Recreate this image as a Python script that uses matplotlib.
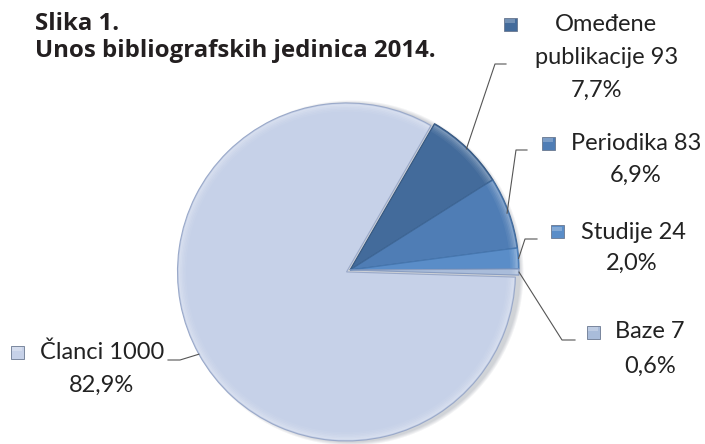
import numpy as np
import matplotlib
matplotlib.use("Agg")
import matplotlib.pyplot as plt
from matplotlib.patches import Rectangle, Ellipse, Wedge

# ---- data ----
categories = ["Omeđene publikacije", "Periodika", "Studije", "Baze", "Članci"]
values = [93, 83, 24, 7, 1000]
percent_labels = ["7,7%", "6,9%", "2,0%", "0,6%", "82,9%"]
title_lines = ["Slika 1.", "Unos bibliografskih jedinica 2014."]

colors = ["#436b9b", "#4f7db5", "#5a8dc8", "#a9bcda", "#c6d1e8"]
edge_dark = ["#34567f", "#3f6898", "#4677b0", "#8a9ec2", "#9aa9c9"]

W, H = 705, 444
fig = plt.figure(figsize=(W / 100, H / 100), dpi=100)
ax = fig.add_axes([0, 0, 1, 1])

cx, cy, R = 350, H - 270, 169

# soft shadow
for i in range(4):
    ax.add_patch(Ellipse((cx + 1, cy - 3), 2 * R + 1 + 2 * i, 2 * R + 1 + 2 * i,
                         color="#303a50", alpha=0.06, lw=0, zorder=0))

wedges, _ = ax.pie(values, colors=colors, startangle=60, counterclock=False,
                   radius=R, center=(cx, cy), explode=[0, 0, 0, 0, 4],
                   wedgeprops=dict(linewidth=0.8), frame=True)
for w, ec in zip(wedges, edge_dark):
    w.set_edgecolor(ec)

# bevel highlight: lighter inner rim fading inward
for w in wedges:
    th1, th2 = w.theta1, w.theta2
    for k, a in enumerate([0.30, 0.22, 0.15, 0.09, 0.05]):
        ax.add_patch(Wedge(w.center, R - 1.2 - k * 1.5, th1 + 0.3, th2 - 0.3,
                           width=1.5, facecolor="white", alpha=a, lw=0, zorder=3))

ax.set_xlim(0, W)
ax.set_ylim(0, H)
ax.set_aspect("equal")
ax.axis("off")

label_font = "Lato"
fs = 17

def px(x, y):
    return x, H - y

layout = [
    dict(lines=["Omeđene", "publikacije 93"], xc=[606, 607], yc=[24, 57], pc=(596, 90),
         marker=(510, 24), elbow=(495, 64), end=(506, 64), r=R - 1),
    dict(lines=["Periodika 83"], xc=[636], yc=[143], pc=(636, 175),
         marker=(548, 143), elbow=(516, 150), end=(527, 150), r=R - 2),
    dict(lines=["Studije 24"], xc=[633], yc=[232], pc=(632, 263),
         marker=(557, 232), elbow=(525, 239), end=(537, 239), r=R),
    dict(lines=["Baze 7"], xc=[650], yc=[332], pc=(650, 366),
         marker=(593, 332), elbow=(562, 340), end=(575, 340), r=R),
    dict(lines=["Članci 1000"], xc=[102], yc=[352], pc=(101, 385),
         marker=(17, 352), elbow=(180, 360), end=(168, 360), r=R),
]

for w, c, lay, pct in zip(wedges, colors, layout, percent_labels):
    for t, xcc, ycc in zip(lay["lines"], lay["xc"], lay["yc"]):
        ax.text(*px(xcc, ycc), t, ha="center", va="center", fontsize=fs,
                family=label_font, color="#222222")
    ax.text(*px(*lay["pc"]), pct, ha="center", va="center", fontsize=fs,
            family=label_font, color="#222222")
    mx, my = px(*lay["marker"])
    s = 13
    ax.add_patch(Rectangle((mx - s / 2, my - s / 2), s, s, facecolor=c,
                           edgecolor="#6a7890", lw=0.6, zorder=5))
    ax.add_patch(Rectangle((mx - s / 2 + 1.5, my + 1), s - 3, s / 2 - 2.5,
                           facecolor="white", alpha=0.25, lw=0, zorder=6))
    mid = np.deg2rad((w.theta1 + w.theta2) / 2)
    wx, wy = w.center
    sx, sy = wx + lay["r"] * np.cos(mid), wy + lay["r"] * np.sin(mid)
    ex, ey = px(*lay["elbow"])
    tx, ty = px(*lay["end"])
    ax.plot([sx, ex, tx], [sy, ey, ty], color="#555555", lw=0.8, zorder=6)

fig.text(35 / W, 1 - 24 / H, title_lines[0], ha="left", va="center",
         fontsize=17.3, fontweight="bold", family="Open Sans", color="#231f20")
fig.text(35 / W, 1 - 51 / H, title_lines[1], ha="left", va="center",
         fontsize=17.3, fontweight="bold", family="Open Sans", color="#231f20")

fig.savefig("out.png", dpi=100)
